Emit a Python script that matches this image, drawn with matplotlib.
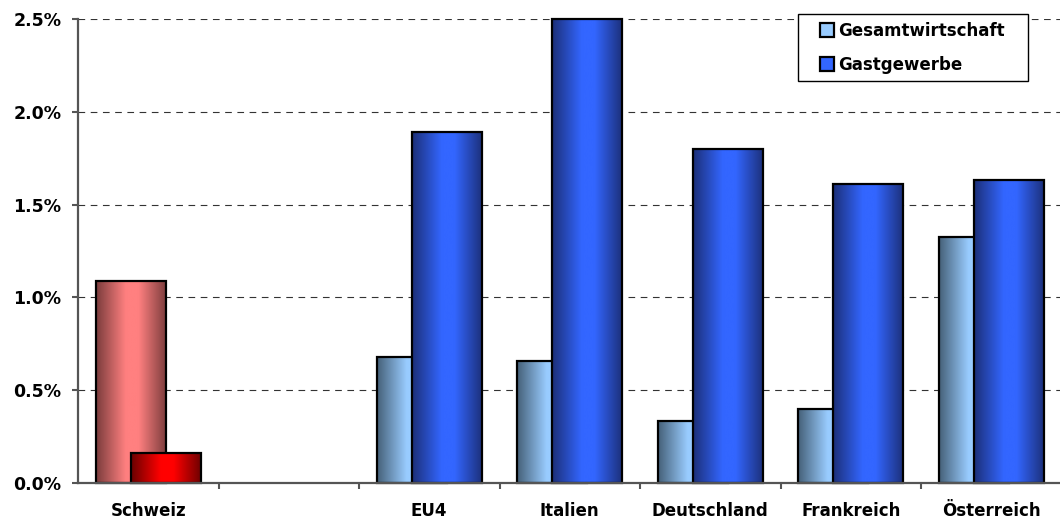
import numpy as np
import matplotlib.pyplot as plt
from matplotlib.colors import LinearSegmentedColormap
from matplotlib.lines import Line2D

# data (percent)
categories = ['Schweiz', '', 'EU4', 'Italien', 'Deutschland', 'Frankreich', 'Österreich']
gesamt = [1.09, np.nan, 0.68, 0.66, 0.335, 0.40, 1.325]
gastgewerbe = [0.16, np.nan, 1.89, 2.50, 1.80, 1.61, 1.635]
series_names = ['Gesamtwirtschaft', 'Gastgewerbe']
yticks = [0.0, 0.5, 1.0, 1.5, 2.0, 2.5]

plt.rcParams['font.family'] = 'DejaVu Sans'
plt.rcParams['font.weight'] = 'bold'


def grad_cmap(edge, mid):
    return LinearSegmentedColormap.from_list('g', [(0, edge), (0.42, mid), (0.6, mid), (1, edge)])


cm_light = grad_cmap('#456078', '#99ccff')
cm_dark = grad_cmap('#1c2f78', '#3366ff')
cm_pink = grad_cmap('#7a3c3c', '#ff8080')
cm_red = grad_cmap('#6a0000', '#ff0000')
grad = np.linspace(0, 1, 256).reshape(1, -1)

fig = plt.figure(figsize=(10.6, 5.2), dpi=100)
ax = fig.add_axes([78 / 1060, 1 - 483 / 520, (1061.5 - 78) / 1060, 464 / 520])

x = np.arange(len(categories))
w = 0.5
off = 0.125


def gradient_bars(xs, vals, cmaps, z):
    bars = ax.bar(xs, vals, w, facecolor='none', edgecolor='black', linewidth=1.6,
                  zorder=z + 0.5, clip_on=False)
    for b, cm in zip(bars, cmaps):
        h = b.get_height()
        if np.isnan(h):
            continue
        x0 = b.get_x()
        im = ax.imshow(grad, extent=(x0, x0 + w, 0, h), aspect='auto', cmap=cm,
                       zorder=z, interpolation='bicubic')
        im.set_clip_path(b)
        im.set_clip_on(True)
    return bars


cmaps1 = [cm_pink] + [cm_light] * (len(categories) - 1)
cmaps2 = [cm_red] + [cm_dark] * (len(categories) - 1)
gradient_bars(x - off, gesamt, cmaps1, 3)
gradient_bars(x + off, gastgewerbe, cmaps2, 4)

ax.set_xlim(-0.5, len(categories) - 0.5)
ax.set_ylim(0, 2.5)

ax.set_yticks(yticks)
ax.set_yticklabels([f'{v:.1f}%' for v in yticks], fontsize=12.5, fontweight='bold')
ax.yaxis.grid(True, linestyle=(0, (6, 5)), color='#333333', linewidth=0.8)
ax.set_axisbelow(True)

ax.set_xticks(x)
ax.set_xticklabels(categories, fontsize=12, fontweight='bold')
ax.set_xticks(np.arange(0.5, len(categories) - 0.5, 1), minor=True)
ax.tick_params(axis='x', which='major', length=0, pad=14)
ax.tick_params(axis='x', which='minor', length=4.5, width=1.5, color='#555555', direction='out')
ax.tick_params(axis='y', which='major', length=4, width=1.5, color='#555555', pad=8)

for s in ['top', 'right']:
    ax.spines[s].set_visible(False)
for s in ['left', 'bottom']:
    ax.spines[s].set_color('#555555')
    ax.spines[s].set_linewidth(1.6)
    ax.spines[s].set_zorder(6)

handles = [Line2D([], [], linestyle='none', marker='s', markersize=9.5, markerfacecolor='#99ccff',
                  markeredgecolor='black', markeredgewidth=1.6),
           Line2D([], [], linestyle='none', marker='s', markersize=9.5, markerfacecolor='#3366ff',
                  markeredgecolor='black', markeredgewidth=1.6)]
leg = ax.legend(handles, series_names, loc='lower left',
                bbox_to_anchor=(798 / 1060, 1 - 81 / 520, 230 / 1060, 66 / 520),
                bbox_transform=fig.transFigure, mode='expand', fancybox=False, framealpha=1,
                edgecolor='black', prop={'size': 12, 'weight': 'bold'},
                handlelength=2.6, handletextpad=-0.65, borderpad=0.45, labelspacing=0.95,
                borderaxespad=0)
leg.get_frame().set_linewidth(1.0)
leg.set_zorder(10)

fig.savefig('out.png', dpi=100)
